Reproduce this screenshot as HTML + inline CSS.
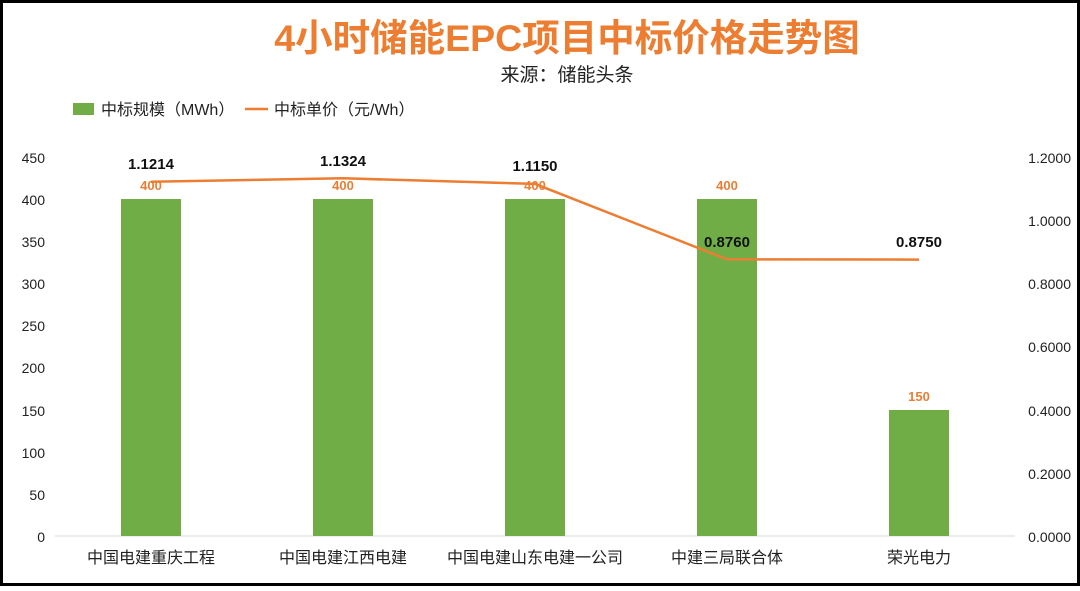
<!DOCTYPE html>
<html><head><meta charset="utf-8"><style>
body{margin:0;background:#fff}
svg text{font-family:"Liberation Sans","Noto Sans CJK SC",sans-serif}
</style></head><body>
<svg width="1080" height="586" xmlns="http://www.w3.org/2000/svg">
<rect x="1.5" y="1.5" width="1077" height="583" fill="#fff" stroke="#000" stroke-width="3"/>
<text x="567" y="51" text-anchor="middle" font-size="37.5" font-weight="bold" fill="#ED7D31">4小时储能EPC项目中标价格走势图</text>
<text x="567" y="81" text-anchor="middle" font-size="19" fill="#222">来源：储能头条</text>
<rect x="73" y="103" width="21" height="12" fill="#70AD47"/>
<text x="101" y="115" font-size="16" fill="#222">中标规模（MWh）</text>
<line x1="245" y1="109" x2="268" y2="109" stroke="#ED7D31" stroke-width="2.5"/>
<text x="274" y="115" font-size="16" fill="#222">中标单价（元/Wh）</text>
<g font-size="14" fill="#222" text-anchor="end">
<text x="45" y="163">450</text><text x="45" y="205">400</text><text x="45" y="247">350</text><text x="45" y="289">300</text><text x="45" y="331">250</text><text x="45" y="373">200</text><text x="45" y="416">150</text><text x="45" y="458">100</text><text x="45" y="500">50</text><text x="45" y="542">0</text>
</g>
<g font-size="14" fill="#222" text-anchor="end">
<text x="1071" y="163">1.2000</text><text x="1071" y="226">1.0000</text><text x="1071" y="289">0.8000</text><text x="1071" y="352">0.6000</text><text x="1071" y="416">0.4000</text><text x="1071" y="479">0.2000</text><text x="1071" y="542">0.0000</text>
</g>
<line x1="55" y1="536" x2="1015" y2="536" stroke="#d9d9d9" stroke-width="1"/>
<g fill="#70AD47">
<rect x="121" y="199" width="60" height="337"/><rect x="313" y="199" width="60" height="337"/><rect x="505" y="199" width="60" height="337"/><rect x="697" y="199" width="60" height="337"/><rect x="889" y="410" width="60" height="126"/>
</g>
<g font-size="13" font-weight="bold" fill="#ED7D31" text-anchor="middle">
<text x="151" y="190">400</text><text x="343" y="190">400</text><text x="535" y="190">400</text><text x="727" y="190">400</text><text x="919" y="401">150</text>
</g>
<polyline points="151,181.8 343,178.3 535,183.9 727,259.3 919,259.6" fill="none" stroke="#ED7D31" stroke-width="2.5"/>
<g font-size="15" font-weight="bold" fill="#111" text-anchor="middle">
<text x="151" y="169">1.1214</text><text x="343" y="166">1.1324</text><text x="535" y="171">1.1150</text><text x="727" y="247">0.8760</text><text x="919" y="247">0.8750</text>
</g>
<g font-size="16" fill="#222" text-anchor="middle">
<text x="151" y="563">中国电建重庆工程</text><text x="343" y="563">中国电建江西电建</text><text x="535" y="563">中国电建山东电建一公司</text><text x="727" y="563">中建三局联合体</text><text x="919" y="563">荣光电力</text>
</g>
</svg>
</body></html>
